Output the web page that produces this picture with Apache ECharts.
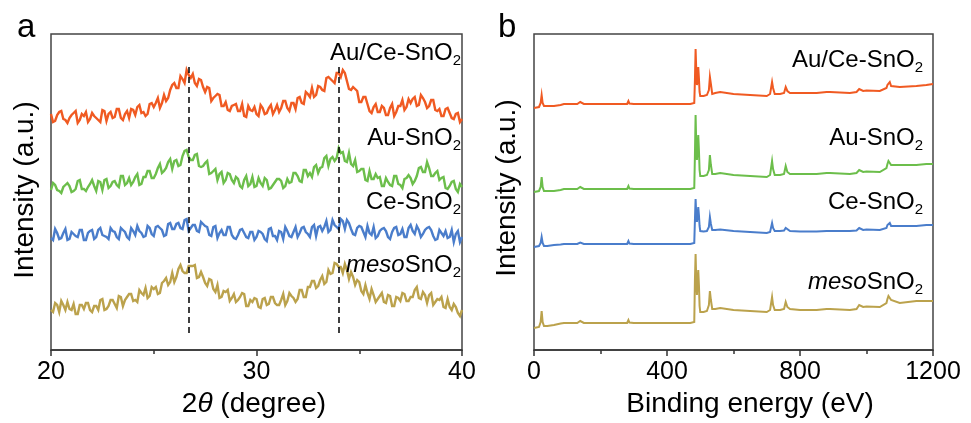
<!DOCTYPE html>
<html><head><meta charset="utf-8">
<script src="https://cdn.jsdelivr.net/npm/echarts@6/dist/echarts.min.js"></script>
<style>html,body{margin:0;padding:0;background:#fff}#c{width:971px;height:423px}</style>
</head><body><div id="c"></div>
<script>
const FONT = '"Liberation Sans", Arial, Helvetica, sans-serif';

// ---- panel a: XRD (2θ from 20 to 40 in 0.1° steps) ----
const xrdStart = 20, xrdStep = 0.1;
const xrdAuCe = [236,228,229,235,238,239,231,230,227,232,235,237,239,227,230,236,234,238,228,231,
  237,234,232,230,228,240,239,229,236,238,232,233,241,241,232,230,236,239,232,241,
  240,235,243,245,237,238,234,236,246,247,243,247,252,242,247,255,249,252,260,265,
  267,262,262,274,271,267,280,275,272,276,267,264,271,270,263,258,263,262,249,252,
  254,256,255,244,244,248,240,239,244,245,246,239,239,246,234,233,244,240,239,243,
  236,234,245,242,236,237,242,245,236,240,245,238,242,249,249,242,239,247,247,241,
  252,253,247,246,258,256,253,262,253,255,264,263,260,259,272,273,271,269,267,277,
  277,273,280,277,269,261,260,263,261,259,248,248,253,253,246,239,237,243,246,238,
  238,244,242,235,235,242,246,234,238,244,244,250,240,243,251,247,251,253,244,245,
  255,252,248,242,244,250,250,240,239,241,234,234,241,242,237,232,231,236,237,228,231];
const xrdAu = [160,167,165,160,159,157,163,165,167,164,158,159,161,169,170,161,161,159,163,166,
  170,164,159,169,168,160,170,171,162,164,168,169,165,163,174,174,165,167,172,165,
  168,173,176,165,166,173,173,179,179,172,172,176,182,186,177,179,182,188,191,181,
  189,190,184,185,194,199,200,193,190,190,195,196,184,183,184,187,189,176,177,179,
  181,170,176,178,167,170,177,176,170,167,173,171,164,162,170,174,164,166,173,163,
  164,172,167,164,172,170,161,162,165,168,171,171,169,162,164,171,167,168,177,177,
  174,169,168,180,180,174,177,173,183,185,177,182,183,192,194,184,191,193,189,192,
  202,197,198,189,188,197,186,184,190,178,179,181,181,170,169,179,171,171,176,172,
  173,164,164,172,168,165,164,174,174,166,165,162,171,172,175,172,166,169,174,182,
  183,178,178,188,182,174,174,177,179,170,172,173,162,161,164,168,169,161,158,166,163];
const xrdCe = [112,110,121,117,111,112,117,121,110,111,118,116,114,113,120,120,110,110,117,119,
  120,111,113,120,122,115,114,113,111,122,119,118,113,111,122,120,118,113,111,122,
  119,115,124,119,117,113,114,124,122,116,114,123,124,122,120,114,115,126,127,121,
  121,126,127,122,121,130,131,119,122,125,125,119,118,128,126,124,123,115,114,123,
  124,112,117,120,115,115,123,123,115,112,111,115,120,121,117,113,112,118,118,110,
  113,119,118,116,111,109,121,122,114,114,110,119,118,111,123,119,114,113,118,123,
  113,117,122,123,118,116,113,123,125,114,123,124,119,123,129,118,120,130,125,123,
  121,131,129,121,130,127,121,116,115,122,124,123,118,113,124,117,115,123,112,114,
  119,121,122,119,113,111,118,122,123,115,116,121,113,113,122,125,119,116,124,120,
  113,116,120,122,123,120,114,110,111,120,117,114,119,112,113,120,108,116,119,108,113];
const xrdMeso = [40,38,47,45,38,49,45,40,48,41,40,46,36,36,45,45,41,47,47,40,
  38,44,44,40,50,51,40,41,44,50,50,46,42,54,53,44,50,53,56,56,
  49,50,48,60,57,55,62,52,54,63,61,63,56,57,67,69,72,65,68,77,
  68,73,81,85,79,77,77,84,84,84,85,72,73,78,73,67,64,71,70,61,
  58,65,52,53,59,58,60,49,52,56,48,50,53,57,56,44,44,50,48,52,
  51,43,42,51,52,45,46,53,53,47,45,45,50,56,45,49,57,54,52,48,
  51,60,60,53,53,63,63,69,69,62,64,70,74,66,68,80,76,77,87,86,
  83,83,77,86,80,71,78,73,65,70,68,59,56,65,57,51,61,55,48,51,
  54,57,48,47,55,54,44,44,53,52,49,57,56,49,49,53,53,60,63,52,
  51,58,55,47,55,57,45,48,51,50,53,43,42,51,43,40,46,43,37,34,40];
const xrdTicks = [20, 30, 40];
const xrdRefLines = [26.7, 34.0];
const xrdRefSpan = [17, 285];

// ---- panel b: XPS survey ----
const xpsEnergy = [0,15,20,23,26,30,40,60,80,90,100,130,136,139,142,150,200,250,280,284,
  287,300,400,470,482,484,486,488,490,492,494,496,498,500,505,510,520,526,529,532,
  536,545,560,600,650,700,710,716,719,724,740,752,757,762,770,800,850,880,885,890,
  950,970,978,983,990,1000,1040,1060,1063,1066,1070,1074,1080,1100,1150,1180,1200];
const xpsAuCe = [242,243,247,255,247,244,244,244,245,246,246,246,247,248,246.5,246,246,246,246,249,
  246.5,246,246,246,247,270,301,280,265,270,283,272,258,254,253,254,255,260,273,266,
  256,257,258,256,255,254,256,268,262,256,256,257,263,259,257,257,257,258,259,258,
  257,258,261,260,259,259.5,259,262,265,267,268,264,262,263,264,265,266];
const xpsAu = [158,159,163,173,163,159,159,159,160,161,161,161,162,163,161.5,161,161,161,161,164,
  161.5,161,161,161,162,195,235,205,190,200,215,200,180,174,173,174,175,180,195,185,
  176,176,177,175,174,173,175,189,181,175,175,176,184,178,176,176,176,177,178,177,
  176,177,180,179,178,178.5,178,182,186,189,190,185,183,185,185,186,186];
const xpsCe = [103,104,107,113,107,104,104,105,105.5,106,106,106,106.5,107.5,106.5,106,106,106,106,109,
  106.5,106,106,106,107,130,151,135,128,135,143,135,124,119,118,118.5,119,123,133,126,
  120,120,120.5,119,118,117,118,127,122,119,119,119.5,122,120,119,118.5,118.5,119,120,119,
  119,119.5,122,121,120,120.5,120,122,125,127,127,124,123,124,124,125,125];
const xpsMeso = [22,23,28,39,28,24,24,25,26.5,27,27,27,27.5,29,27.5,27,27,27,27,30,
  27.5,27,27,27,28,70,96,70,55,68,80,65,44,38,37,38,39,45,59,50,
  41,41,42,40,39,38,40,53,45,40,40,41,48,43,41,40,40,41,42,41,
  40,41,45,44,43,43.5,43,47,51,54,53,50,48,47,49,49,49];
const xpsTicks = [0, 400, 800, 1200];

const sampleLabels = [
  {prefix: '', body: 'Au/Ce-SnO', sub: '2'},
  {prefix: '', body: 'Au-SnO', sub: '2'},
  {prefix: '', body: 'Ce-SnO', sub: '2'},
  {prefix: 'meso', body: 'SnO', sub: '2'}
];
const colors = ['#F05A22', '#6CBE4B', '#4A7DCB', '#BBA24C'];

const twoTheta = xrdAuCe.map((_, i) => +(xrdStart + i * xrdStep).toFixed(2));
const pairs = (xs, ys) => ys.map((y, i) => [xs[i], y]);

const chart = echarts.init(document.getElementById('c'), null, {renderer: 'canvas'});

function xAxisCfg(grid, ticks) {
  const interval = ticks[1] - ticks[0];
  return {
    gridIndex: grid, type: 'value', min: ticks[0], max: ticks[ticks.length - 1], interval: interval,
    axisLine: {show: true, onZero: false, lineStyle: {color: '#333', width: 1.5}},
    axisTick: {show: true, inside: false, length: 6, lineStyle: {color: '#333', width: 1.5}},
    minorTick: {show: true, splitNumber: 2, length: 4, lineStyle: {color: '#333', width: 1.5}},
    axisLabel: {show: true, fontSize: 25, fontFamily: FONT, color: '#000', margin: 10,
      formatter: v => String(v)},
    splitLine: {show: false}, minorSplitLine: {show: false}
  };
}
function yAxisCfg(grid) {
  return {
    gridIndex: grid, type: 'value', min: 0, max: 316,
    axisLine: {show: false}, axisTick: {show: false}, axisLabel: {show: false}, splitLine: {show: false}
  };
}
function lineSeries(xi, xs, ys, color, width) {
  return {
    type: 'line', xAxisIndex: xi, yAxisIndex: xi, data: pairs(xs, ys),
    showSymbol: false, symbol: 'none', silent: true, animation: false, sampling: 'none',
    lineStyle: {color: color, width: width, join: 'miter'}, itemStyle: {color: color}
  };
}

const rich = {
  n: {fontSize: 24, fontFamily: FONT, lineHeight: 30, fill: '#000', color: '#000'},
  i: {fontSize: 24, fontFamily: FONT, lineHeight: 30, fontStyle: 'italic', fill: '#000', color: '#000'},
  s: {fontSize: 15, fontFamily: FONT, lineHeight: 12, verticalAlign: 'bottom', fill: '#000', color: '#000'}
};
function sampleText(x, y, lab) {
  const t = (lab.prefix ? '{i|' + lab.prefix + '}' : '') + '{n|' + lab.body + '}{s|' + lab.sub + '}';
  return {type: 'text', x: x, y: y, silent: true, z: 100,
    style: {text: t, rich: rich, align: 'right', verticalAlign: 'middle', textAlign: 'right', textVerticalAlign: 'middle', fill: '#000'}};
}
function plainText(x, y, text, size, rot, extra) {
  return {type: 'text', x: x, y: y, rotation: rot || 0, silent: true, z: 100,
    style: Object.assign({text: text, fontSize: size, fontFamily: FONT, fill: '#000',
      align: 'center', verticalAlign: 'middle', textAlign: 'center', textVerticalAlign: 'middle'}, extra || {})};
}

const labelYa = [53, 138, 202, 265];
const labelYb = [60, 138, 202, 282];

const graphics = [
  plainText(17, 28, 'a', 33, 0, {align: 'left', textAlign: 'left'}),
  plainText(498, 28, 'b', 33, 0, {align: 'left', textAlign: 'left'}),
  plainText(25, 190, 'Intensity (a.u.)', 28, Math.PI / 2),
  plainText(507, 188, 'Intensity (a.u.)', 28, Math.PI / 2),
  {type: 'text', x: 254, y: 404, silent: true, z: 100,
    style: {text: '{a|2}{b|θ}{a| (degree)}', align: 'center', verticalAlign: 'middle', textAlign: 'center', textVerticalAlign: 'middle',
      rich: {a: {fontSize: 28, fontFamily: FONT, fill: '#000'}, b: {fontSize: 28, fontFamily: FONT, fontStyle: 'italic', fill: '#000'}}}},
  plainText(750, 404, 'Binding energy (eV)', 28, 0)
];
sampleLabels.forEach((lab, k) => {
  graphics.push(sampleText(461, labelYa[k], lab));
  graphics.push(sampleText(923, labelYb[k], lab));
});

const xrdSets = [xrdAuCe, xrdAu, xrdCe, xrdMeso];
const xpsSets = [xpsAuCe, xpsAu, xpsCe, xpsMeso];
const series = [];
xrdSets.forEach((ys, k) => series.push(lineSeries(0, twoTheta, ys, colors[k], 2.4)));
xpsSets.forEach((ys, k) => series.push(lineSeries(1, xpsEnergy, ys, colors[k], 2)));
series.push({
  type: 'line', xAxisIndex: 0, yAxisIndex: 0, data: [], silent: true, animation: false, z: 10,
  markLine: {
    silent: true, animation: false, symbol: ['none', 'none'], label: {show: false},
    lineStyle: {color: '#000', width: 1.5, type: [6, 4]},
    data: xrdRefLines.map(x => [{coord: [x, xrdRefSpan[0]]}, {coord: [x, xrdRefSpan[1]]}])
  }
});

chart.setOption({
  animation: false,
  backgroundColor: '#fff',
  grid: [
    {left: 51, right: 509, top: 34, bottom: 73, show: true, borderColor: '#444', borderWidth: 1.5, backgroundColor: 'transparent', containLabel: false, outerBoundsMode: 'none'},
    {left: 534, right: 38, top: 34, bottom: 73, show: true, borderColor: '#444', borderWidth: 1.5, backgroundColor: 'transparent', containLabel: false, outerBoundsMode: 'none'}
  ],
  xAxis: [xAxisCfg(0, xrdTicks), xAxisCfg(1, xpsTicks)],
  yAxis: [yAxisCfg(0), yAxisCfg(1)],
  series: series,
  graphic: graphics
});
</script>
</body></html>
